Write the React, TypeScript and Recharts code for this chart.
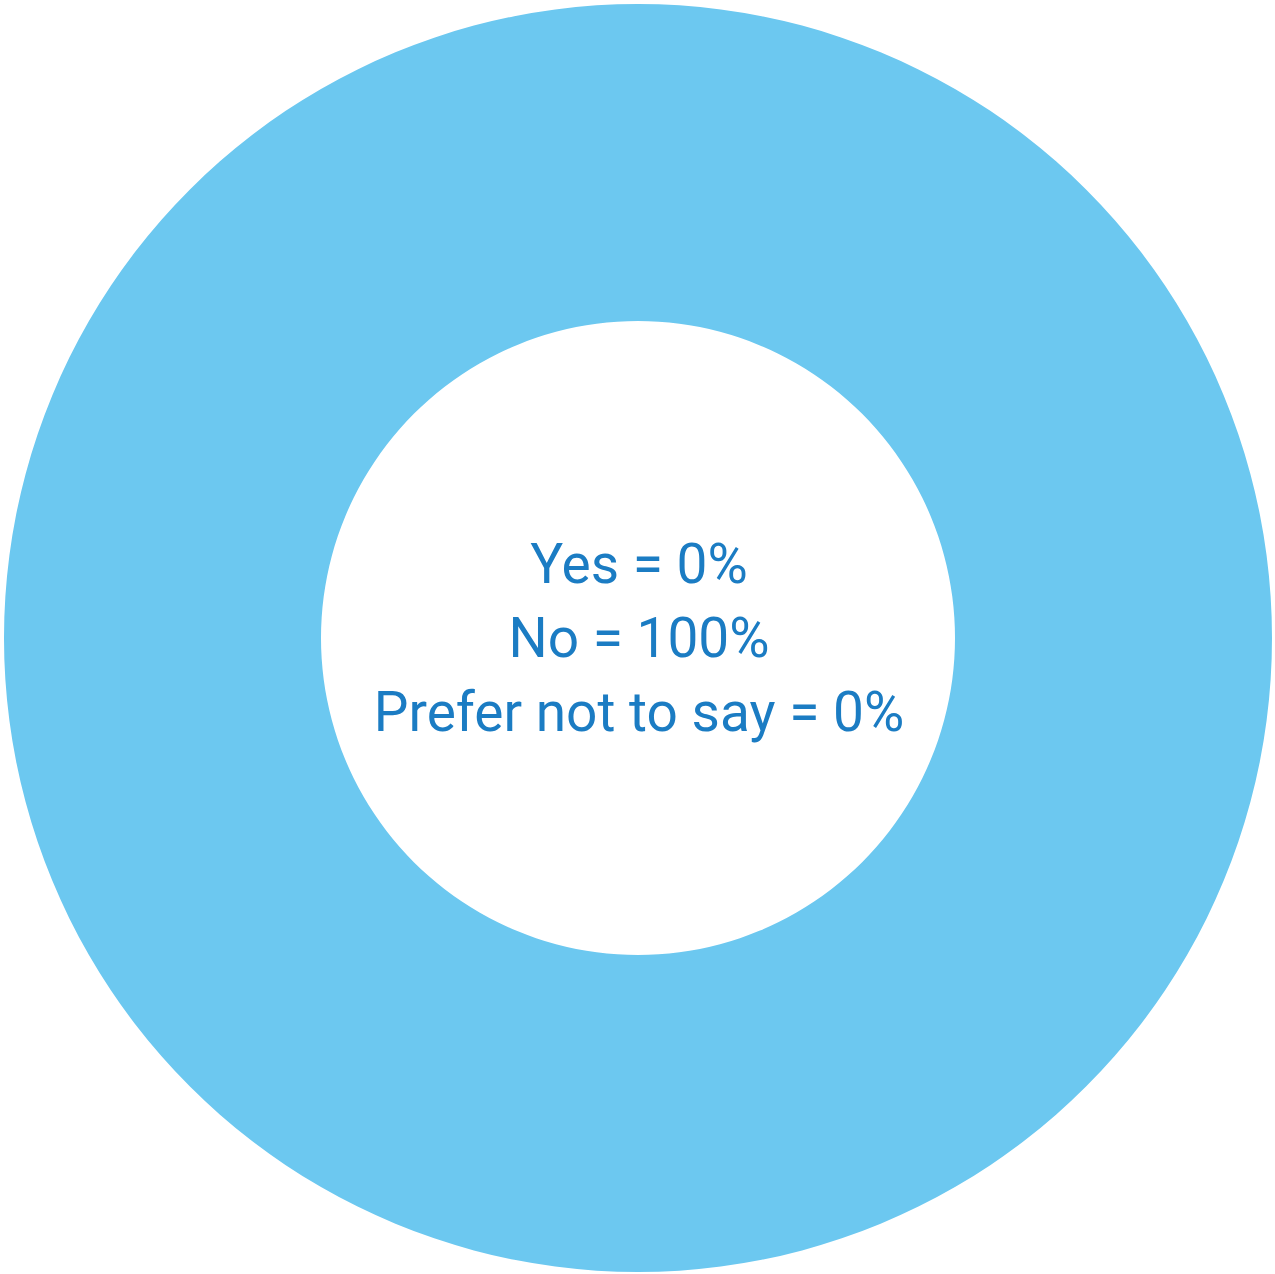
import { PieChart, Pie, Cell, Label } from 'recharts';

const answers = ['Yes', 'No', 'Prefer not to say'];
const shares = [0, 100, 0];
const sliceColors = ['#6cc8f0', '#6cc8f0', '#6cc8f0'];

const data = answers.map((name, i) => ({ name, value: shares[i] }));

function CenterText({ viewBox }: any) {
  const cx = (viewBox?.cx ?? 633) + 6;
  const cy = (viewBox?.cy ?? 633) + 6;
  return (
    <text
      x={cx}
      y={cy}
      textAnchor="middle"
      fill="#1b7cc3"
      fontFamily="Roboto, sans-serif"
      fontSize={55}
    >
      {data.map((d, i) => (
        <tspan key={d.name} x={cx} y={cy - 56 + i * 74}>
          {`${d.name} = ${d.value}%`}
        </tspan>
      ))}
    </text>
  );
}

export default function App() {
  return (
    <div style={{ position: 'absolute', left: 0, top: 0, background: '#fff' }}>
      <PieChart width={1276} height={1276}>
        <Pie
          data={data}
          dataKey="value"
          nameKey="name"
          cx={633}
          cy={633}
          innerRadius={317}
          outerRadius={634}
          startAngle={90}
          endAngle={-270}
          stroke="none"
          isAnimationActive={false}
        >
          {data.map((d, i) => (
            <Cell key={d.name} fill={sliceColors[i]} />
          ))}
          <Label position="center" content={<CenterText />} />
        </Pie>
      </PieChart>
    </div>
  );
}
